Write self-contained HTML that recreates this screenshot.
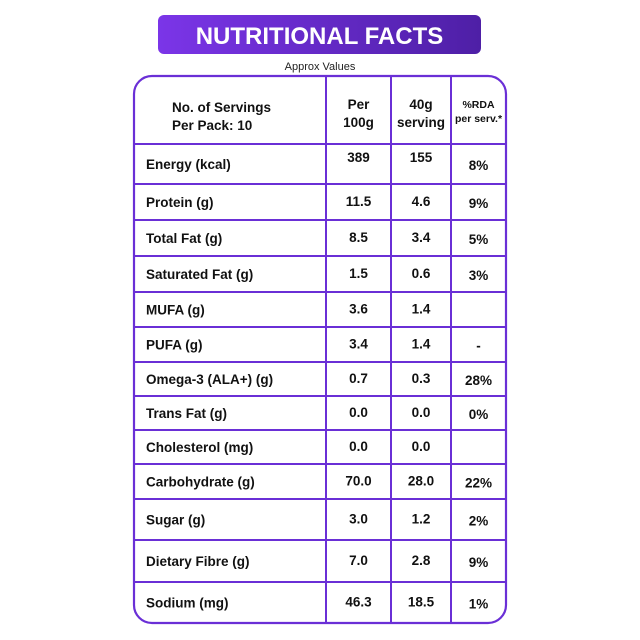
<!DOCTYPE html>
<html><head><meta charset="utf-8"><style>
html,body{margin:0;padding:0;background:#fff;}
svg{display:block;font-family:"Liberation Sans",Arial,sans-serif;}
</style></head><body>
<svg id="s" width="640" height="640" viewBox="0 0 640 640">
<defs><linearGradient id="g" x1="0" x2="1"><stop offset="0" stop-color="#7b35e8"/><stop offset="1" stop-color="#4e1fa6"/></linearGradient></defs>
<rect x="158" y="15" width="323" height="39" rx="6" fill="url(#g)"/>
<text x="319.5" y="44" text-anchor="middle" fill="#fff" font-size="24" font-weight="bold">NUTRITIONAL FACTS</text>
<text x="320" y="70" text-anchor="middle" fill="#222" font-size="11">Approx Values</text>
<rect x="134" y="76" width="372" height="547" rx="18" fill="#fff" stroke="#6a2fd6" stroke-width="2.2"/>
<g id="grid" stroke="#6a2fd6" stroke-width="2"></g>
<g id="txt" fill="#111" font-weight="bold" font-size="13.5"></g>
</svg>
<script>
const labels=["Energy (kcal)","Protein (g)","Total Fat (g)","Saturated Fat (g)","MUFA (g)","PUFA (g)","Omega-3 (ALA+) (g)","Trans Fat (g)","Cholesterol (mg)","Carbohydrate (g)","Sugar (g)","Dietary Fibre (g)","Sodium (mg)"];
const per100=["389","11.5","8.5","1.5","3.6","3.4","0.7","0.0","0.0","70.0","3.0","7.0","46.3"];
const perServ=["155","4.6","3.4","0.6","1.4","1.4","0.3","0.0","0.0","28.0","1.2","2.8","18.5"];
const rda=["8%","9%","5%","3%","","-","28%","0%","","22%","2%","9%","1%"];
const rowLines=[144,184,220,256,292,327,362,396,430,464,499,540,582,623];
const colLines=[134,326,391,451,506];
const NS="http://www.w3.org/2000/svg";
const grid=document.getElementById('grid'),txt=document.getElementById('txt');
function ln(x1,y1,x2,y2,name){const l=document.createElementNS(NS,'line');l.setAttribute('x1',x1);l.setAttribute('y1',y1);l.setAttribute('x2',x2);l.setAttribute('y2',y2);


grid.appendChild(l);}
function tx(x,y,s,anchor,name,size,weight){const t=document.createElementNS(NS,'text');t.setAttribute('x',x);t.setAttribute('y',y);t.setAttribute('text-anchor',anchor);if(size)t.setAttribute('font-size',size);t.textContent=s;


txt.appendChild(t);}
for(let i=0;i<rowLines.length-1;i++){ln(134,rowLines[i],506,rowLines[i],'row-divider');}
for(let j=1;j<colLines.length-1;j++){ln(colLines[j],77,colLines[j],622,'column-divider');}
tx(172,112,"No. of Servings","start","header-servings");
tx(172,130,"Per Pack: 10","start","header-per-pack");
tx(358.5,109,"Per","middle","header-per-100g");
tx(358.5,127,"100g","middle","header-per-100g");
tx(421,109,"40g","middle","header-40g-serving");
tx(421,127,"serving","middle","header-40g-serving");
tx(478.5,108,"%RDA","middle","header-rda","10.5");
tx(478.5,122,"per serv.*","middle","header-rda","10.5");
for(let i=0;i<labels.length;i++){
 const top=rowLines[i],bot=rowLines[i+1],mid=(top+bot)/2;
 const off=(i===0)?-3:0;
 tx(146,mid+5,labels[i],"start","nutrient-label");
 tx(358.5,mid+4+off*2,per100[i],"middle","value-per-100g");
 tx(421,mid+4+off*2,perServ[i],"middle","value-per-serving");
 tx(478.5,mid+6,rda[i],"middle","value-rda");
}
</script>
</body></html>
